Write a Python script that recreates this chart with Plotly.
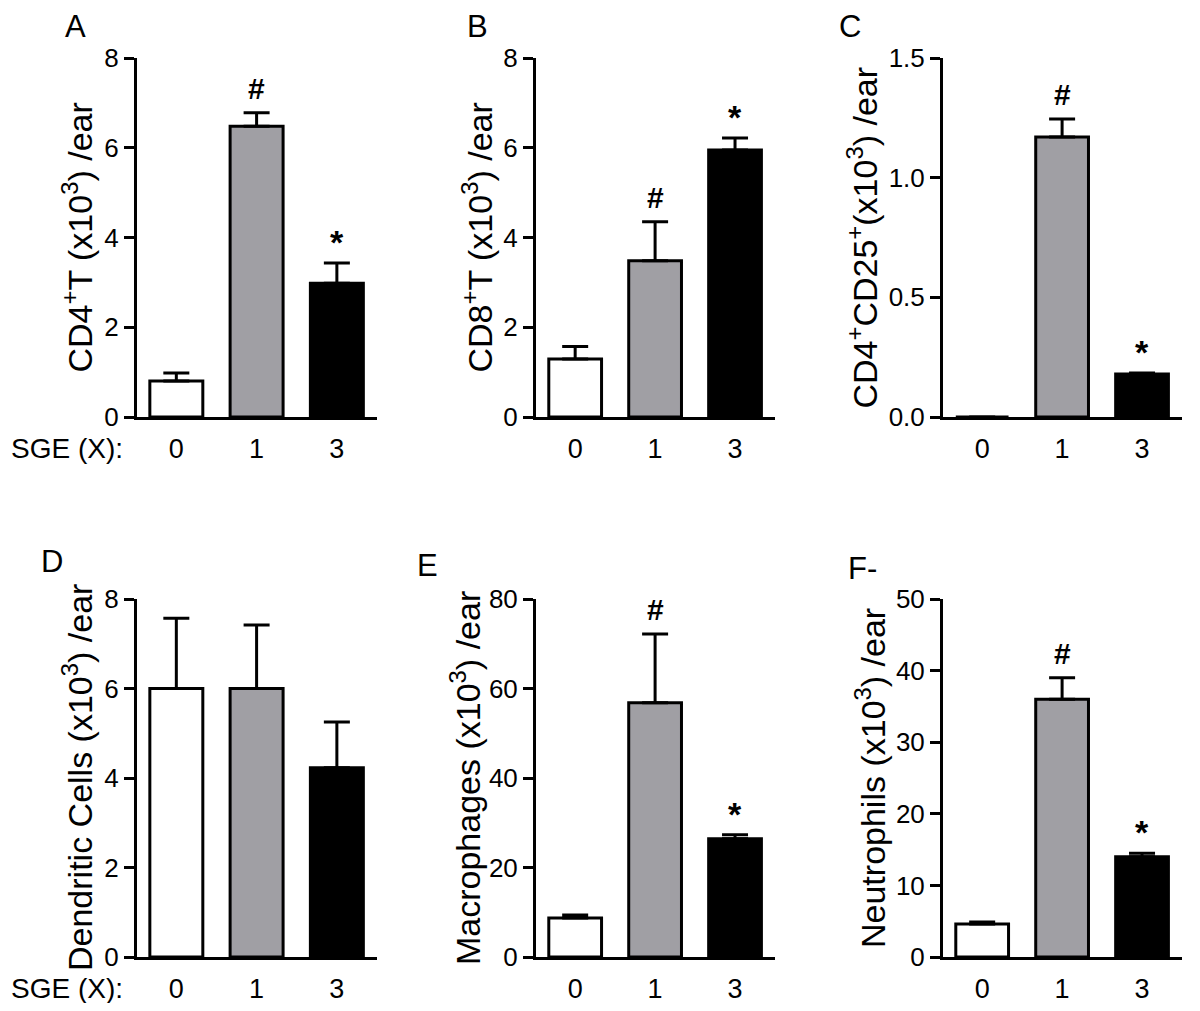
import plotly.graph_objects as go

# page body adds an 8px margin; figure sized so the page is 1200x1011
OFF = 8
W, H = 1200 - 2 * OFF, 1011 - 2 * OFF

# ---------------- data ----------------
groups = ["0", "1", "3"]

cd4_mean = [0.80, 6.48, 2.98]
cd4_err = [0.18, 0.30, 0.45]

cd8_mean = [1.29, 3.48, 5.95]
cd8_err = [0.28, 0.87, 0.27]

treg_mean = [0.0, 1.17, 0.18]
treg_err = [0.0, 0.075, 0.004]

dc_mean = [6.0, 6.0, 4.23]
dc_err = [1.57, 1.42, 1.02]

mac_mean = [8.7, 56.8, 26.4]
mac_err = [0.7, 15.4, 0.9]

neu_mean = [4.6, 36.0, 14.0]
neu_err = [0.3, 3.0, 0.5]

panel_letters = ["A", "B", "C", "D", "E", "F-"]
y_titles = [
    "CD4<sup>+</sup>T (x10<sup>3</sup>) /ear",
    "CD8<sup>+</sup>T (x10<sup>3</sup>) /ear",
    "CD4<sup>+</sup>CD25<sup>+</sup>(x10<sup>3</sup>) /ear",
    "Dendritic Cells (x10<sup>3</sup>) /ear",
    "Macrophages (x10<sup>3</sup>) /ear",
    "Neutrophils (x10<sup>3</sup>) /ear",
]
y_max = [8, 8, 1.5, 8, 80, 50]
y_dtick = [2, 2, 0.5, 2, 20, 10]
y_fmt = ["d", "d", ".1f", "d", "d", "d"]
sig_marks = [["", "#", "*"], ["", "#", "*"], ["", "#", "*"],
             ["", "", ""], ["", "#", "*"], ["", "#", "*"]]
x_label_prefix = "SGE (X):"

means = [cd4_mean, cd8_mean, treg_mean, dc_mean, mac_mean, neu_mean]
errs = [cd4_err, cd8_err, treg_err, dc_err, mac_err, neu_err]

bar_colors = ["#ffffff", "#a09fa4", "#000000"]
xpos = list(range(len(groups)))

# ---------------- layout geometry (reference pixels) ----------------
col_x = [(137, 377), (536, 775), (943, 1182)]
row_y = [(58, 417), (599, 957)]
title_x = [77, 477, 862, 77, 465, 870]
letter_pos = [(75, 27), (477, 27), (850, 26), (52, 561), (427, 565), (862, 568)]

def px(x):
    return (x - OFF) / W

def py(y):
    return 1 - (y - OFF) / H

FONT = "Liberation Sans, Arial, sans-serif"
MARK_STYLE = {"#": dict(size=30, shift=6), "*": dict(size=34, shift=0)}

fig = go.Figure()
annotations = []
layout_axes = {}

for i in range(6):
    r, c = divmod(i, 3)
    n = i + 1
    xa = "x" if n == 1 else f"x{n}"
    ya = "y" if n == 1 else f"y{n}"
    fig.add_trace(go.Bar(
        x=xpos, y=means[i],
        marker=dict(color=bar_colors, line=dict(color="black", width=3)),
        width=0.66,
        error_y=dict(type="data", array=errs[i], arrayminus=[0] * 3,
                     symmetric=False, thickness=3, width=13, color="black"),
        xaxis=xa, yaxis=ya, showlegend=False,
    ))
    x0, x1 = col_x[c]
    y0, y1 = row_y[r]
    layout_axes[f"xaxis{'' if n == 1 else n}"] = dict(
        domain=[px(x0), px(x1)], anchor=ya,
        range=[-0.49, 2.5], tickvals=xpos, ticktext=groups,
        showline=True, linecolor="black", linewidth=3,
        ticks="", showgrid=False, zeroline=False, automargin=False,
        tickfont=dict(family=FONT, size=27, color="black"),
        ticklabelstandoff=6, fixedrange=True,
    )
    layout_axes[f"yaxis{'' if n == 1 else n}"] = dict(
        domain=[py(y1), py(y0)], anchor=xa,
        range=[0, y_max[i]], dtick=y_dtick[i], tick0=0, tickformat=y_fmt[i],
        showline=True, linecolor="black", linewidth=3,
        ticks="outside", ticklen=10, tickwidth=3, tickcolor="black",
        showgrid=False, zeroline=False, automargin=False,
        tickfont=dict(family=FONT, size=26, color="black"),
    )
    # y title
    annotations.append(dict(
        text=y_titles[i], xref="paper", yref="paper",
        x=px(title_x[i]), y=py((y0 + y1) / 2), textangle=-90,
        xanchor="center", yanchor="middle", showarrow=False,
        font=dict(family=FONT, size=34, color="black"),
    ))
    # panel letter
    lx, ly = letter_pos[i]
    annotations.append(dict(
        text=panel_letters[i], xref="paper", yref="paper",
        x=px(lx), y=py(ly), xanchor="center", yanchor="middle",
        showarrow=False, font=dict(family=FONT, size=31, color="black"),
    ))
    # significance marks
    for k in xpos:
        m = sig_marks[i][k]
        if m:
            annotations.append(dict(
                text="<b>" + m + "</b>", xref=xa, yref=ya,
                x=k, y=means[i][k] + errs[i][k], yanchor="bottom",
                yshift=MARK_STYLE[m]["shift"], showarrow=False,
                font=dict(family=FONT, size=MARK_STYLE[m]["size"], color="black"),
            ))

# SGE (X): labels for left column
for r in range(2):
    annotations.append(dict(
        text=x_label_prefix, xref="paper", yref="paper",
        x=px(9), y=py(row_y[r][1] + 31), xanchor="left", yanchor="middle",
        showarrow=False, font=dict(family=FONT, size=28, color="black"),
    ))

fig.update_layout(
    template="none",
    width=W, height=H, margin=dict(l=0, r=0, t=0, b=0, autoexpand=False),
    paper_bgcolor="white", plot_bgcolor="white",
    annotations=annotations, **layout_axes,
)

fig.write_html("out.html")
